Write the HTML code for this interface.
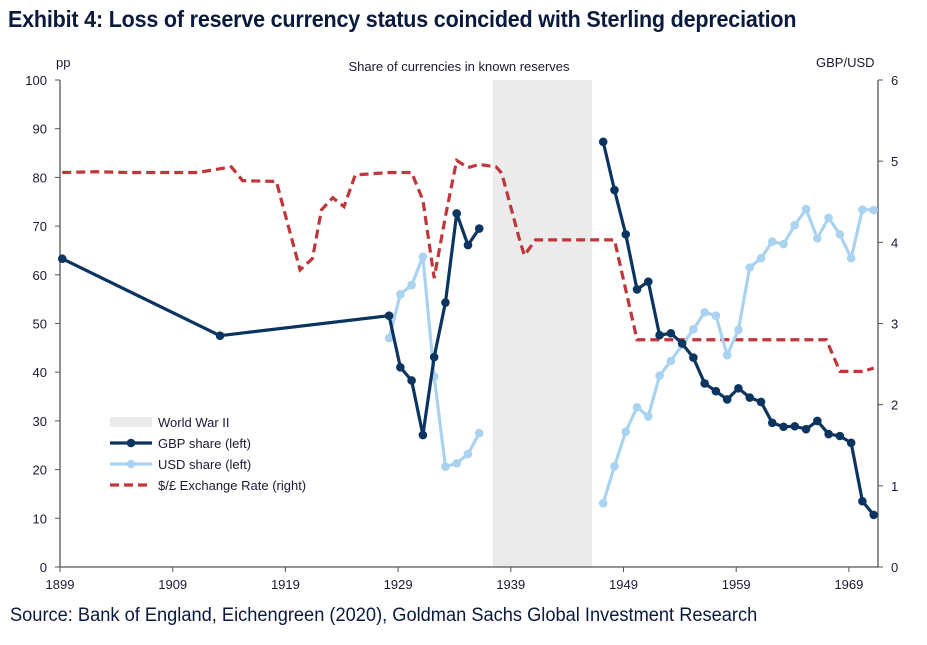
<!DOCTYPE html>
<html><head><meta charset="utf-8">
<style>
body{margin:0;background:#fff;width:927px;height:645px;overflow:hidden;font-family:"Liberation Sans",Arial,sans-serif;}
#title{position:absolute;left:8px;top:6px;font-family:"Liberation Sans Narrow","Liberation Sans",sans-serif;font-weight:bold;font-size:23px;color:#0a1a3c;letter-spacing:-0.2px;transform:scaleX(0.935);transform-origin:0 0;white-space:nowrap;}
#source{position:absolute;left:10px;top:605px;font-family:"Liberation Sans Narrow","Liberation Sans",sans-serif;font-size:19px;color:#0a1a3c;transform:scaleX(0.96);transform-origin:0 0;white-space:nowrap;}
svg{position:absolute;left:0;top:0;}
svg text{font-family:"Liberation Sans",Arial,sans-serif;font-size:13px;fill:#1a1a33;}
</style></head><body>
<div id="title">Exhibit 4: Loss of reserve currency status coincided with Sterling depreciation</div>
<div id="source">Source: Bank of England, Eichengreen (2020), Goldman Sachs Global Investment Research</div>
<svg id="chart" width="927" height="645"></svg>
<script>
const gbpYears=[1899,1913,1928,1929,1930,1931,1932,1933,1934,1935,1936,1947,1948,1949,1950,1951,1952,1953,1954,1955,1956,1957,1958,1959,1960,1961,1962,1963,1964,1965,1966,1967,1968,1969,1970,1971];
const gbpShare=[63.3,47.5,51.6,41.0,38.3,27.1,43.1,54.3,72.6,66.1,69.5,87.3,77.4,68.3,57.0,58.6,47.6,48.0,45.9,43.0,37.7,36.1,34.4,36.7,34.8,33.9,29.6,28.8,28.9,28.3,30.0,27.3,26.9,25.5,13.5,10.7];
const usdYears=[1928,1929,1930,1931,1932,1933,1934,1935,1936,1947,1948,1949,1950,1951,1952,1953,1954,1955,1956,1957,1958,1959,1960,1961,1962,1963,1964,1965,1966,1967,1968,1969,1970,1971];
const usdShare=[47.0,56.0,57.9,63.7,39.1,20.6,21.3,23.2,27.5,13.1,20.7,27.8,32.8,30.9,39.3,42.3,45.6,48.8,52.3,51.6,43.5,48.7,61.5,63.4,66.8,66.3,70.2,73.5,67.5,71.7,68.3,63.4,73.4,73.3];
const fxYears=[1899,1902,1905,1908,1911,1914,1915,1918,1920.1,1921.2,1922,1923,1924,1925,1928,1930,1931,1932,1933,1934,1935,1936,1937.5,1938,1939.5,1940,1941,1948,1950,1966.8,1968,1970,1971];
const fxRate=[4.86,4.87,4.86,4.86,4.86,4.93,4.76,4.75,3.66,3.8,4.4,4.55,4.44,4.83,4.86,4.86,4.52,3.56,4.32,5.01,4.92,4.96,4.93,4.85,4.07,3.84,4.03,4.03,2.80,2.80,2.41,2.41,2.45];
const xTicks=[1899,1909,1919,1929,1939,1949,1959,1969];
const yTicks=[0,10,20,30,40,50,60,70,80,90,100];
const y2Ticks=[0,1,2,3,4,5,6];
const warStart=1937.4, warEnd=1946.2;

const svg=document.getElementById('chart');
const NS='http://www.w3.org/2000/svg';
const X0=60,X1=878,Y0=567,Y1=80;
const xs=y=>60+(y-1899)*11.27;
const xd=y=>xs(y+0.2);
const yl=v=>Y0-(v/100)*(Y0-Y1);
const yr=v=>Y0-(v/6)*(Y0-Y1);
function mk(tag,attrs,parent){const e=document.createElementNS(NS,tag);for(const k in attrs)e.setAttribute(k,attrs[k]);(parent||svg).appendChild(e);return e;}

const band=mk('rect',{x:xs(warStart),y:Y1,width:xs(warEnd)-xs(warStart),height:Y0-Y1,fill:'#ebebeb'});



const ax=mk('path',{d:`M${X0} ${Y1}V${Y0}H${X1}V${Y1}`,stroke:'#555',fill:'none','stroke-width':1.3});


yTicks.forEach(v=>{
  mk('line',{x1:X0-5,x2:X0,y1:yl(v),y2:yl(v),stroke:'#555'});
  const t=mk('text',{x:X0-13,y:yl(v)+5,'text-anchor':'end'});t.textContent=v;
  
  
});
y2Ticks.forEach(v=>{
  mk('line',{x1:X1,x2:X1+5,y1:yr(v),y2:yr(v),stroke:'#555'});
  const t=mk('text',{x:X1+13,y:yr(v)+5});t.textContent=v;
  
  
});
xTicks.forEach(v=>{
  mk('line',{x1:xs(v),x2:xs(v),y1:Y0,y2:Y0+5,stroke:'#555'});
  const t=mk('text',{x:xs(v),y:Y0+22,'text-anchor':'middle'});t.textContent=v;
  
  
});
let t=mk('text',{x:56,y:67});t.textContent='pp';


t=mk('text',{x:816,y:67});t.textContent='GBP/USD';


t=mk('text',{x:459,y:71,'text-anchor':'middle'});t.textContent='Share of currencies in known reserves';



function segs(years,vals,ys){
  const out=[];let cur=[];
  years.forEach((yy,i)=>{ if(cur.length&&yy-years[i-1]>3&&years[i-1]>=1936){out.push(cur);cur=[];} cur.push([xd(yy),ys(vals[i])]);});
  out.push(cur);return out;
}
const fx=mk('polyline',{points:fxYears.map((yy,i)=>xd(yy)+','+yr(fxRate[i])).join(' '),fill:'none',stroke:'#c0363a','stroke-width':3.2,'stroke-dasharray':'9,5'});



function series(years,vals,color,name,w,r){
  segs(years,vals,yl).forEach(s=>{
    const p=mk('polyline',{points:s.map(q=>q.join(',')).join(' '),fill:'none',stroke:color,'stroke-width':w,'stroke-linejoin':'round'});
    
    
  });
  years.forEach((yy,i)=>{
    const c=mk('circle',{cx:xd(yy),cy:yl(vals[i]),r:r,fill:color});
    
    
  });
}
series(usdYears,usdShare,'#a9d3f0','usd-share',3.2,4.3);
series(gbpYears,gbpShare,'#0b3560','gbp-share',3.2,4.3);

const lg=mk('g',{});


let r=mk('rect',{x:110,y:417,width:42,height:10,fill:'#ebebeb'},lg);


mk('line',{x1:110,x2:152,y1:443,y2:443,stroke:'#0b3560','stroke-width':3.2},lg);
mk('circle',{cx:131,cy:443,r:4.3,fill:'#0b3560'},lg);
mk('line',{x1:110,x2:152,y1:464,y2:464,stroke:'#a9d3f0','stroke-width':3.2},lg);
mk('circle',{cx:131,cy:464,r:4.3,fill:'#a9d3f0'},lg);
mk('line',{x1:110,x2:152,y1:485,y2:485,stroke:'#c0363a','stroke-width':3.2,'stroke-dasharray':'9,5'},lg);
[['World War II',427],['GBP share (left)',448],['USD share (left)',469],['$/£ Exchange Rate (right)',490]].forEach(a=>{
  const tx=mk('text',{x:158,y:a[1]},lg);tx.textContent=a[0];
  
  
});
</script>
</body></html>
